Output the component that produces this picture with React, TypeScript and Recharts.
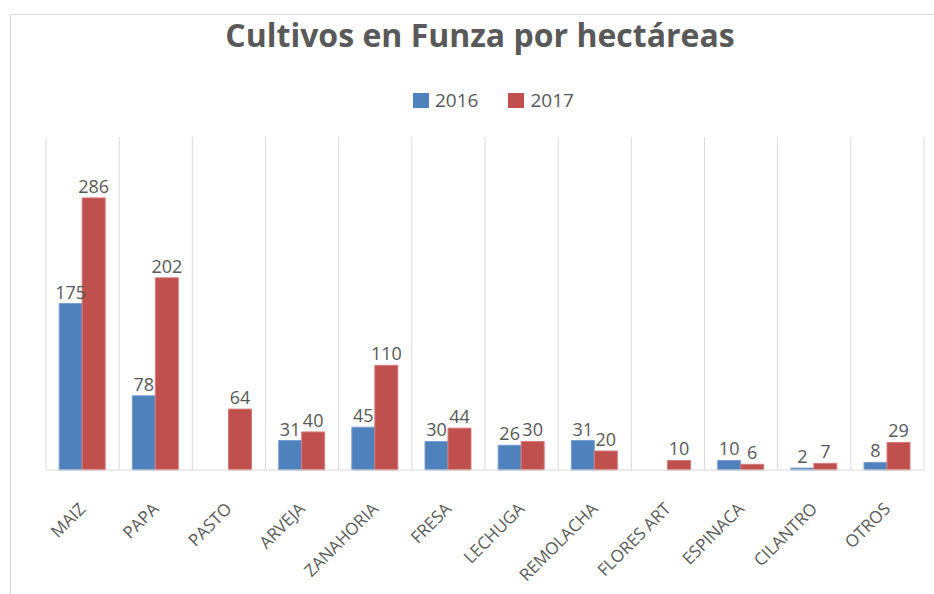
import { BarChart, Bar, XAxis, YAxis, CartesianGrid, Legend, LabelList } from 'recharts';

const cultivos = ['MAIZ', 'PAPA', 'PASTO', 'ARVEJA', 'ZANAHORIA', 'FRESA', 'LECHUGA', 'REMOLACHA', 'FLORES ART', 'ESPINACA', 'CILANTRO', 'OTROS'];
const ha2016 = [175, 78, null, 31, 45, 30, 26, 31, null, 10, 2, 8];
const ha2017 = [286, 202, 64, 40, 110, 44, 30, 20, 10, 6, 7, 29];

const data = cultivos.map((name, i) => ({ name, y2016: ha2016[i], y2017: ha2017[i] }));

const FONT = '"Open Sans", sans-serif';
const GRAY = '#595959';

function Tick({ x, y, payload }: any) {
  return (
    <text
      transform={`translate(${x + 4}, ${y + 32}) rotate(-45)`}
      textAnchor="end"
      fill={GRAY}
      fontSize={17}
      fontFamily={FONT}
    >
      {payload.value}
    </text>
  );
}

function LegendBox({ payload }: any) {
  return (
    <div style={{ display: 'flex', alignItems: 'center', fontFamily: FONT, fontSize: 19, color: GRAY }}>
      {(payload || []).map((p: any) => (
        <div key={p.value} style={{ display: 'flex', alignItems: 'center', marginRight: 30 }}>
          <span style={{ width: 16, height: 15, background: p.color, marginRight: 6, display: 'inline-block' }} />
          <span>{p.value}</span>
        </div>
      ))}
    </div>
  );
}

const fmt = (v: any) => (v == null ? '' : v);

export default function App() {
  return (
    <div style={{ position: 'absolute', left: 0, top: 0, width: 934, height: 594, background: '#fff', overflow: 'hidden' }}>
      <div
        style={{
          position: 'absolute',
          left: 10,
          top: 14,
          width: 940,
          height: 600,
          borderLeft: '1px solid #d9d9d9',
          borderTop: '1px solid #d9d9d9',
        }}
      />
      <div
        style={{
          position: 'absolute',
          left: 0,
          top: 13,
          width: 960,
          textAlign: 'center',
          fontFamily: FONT,
          fontWeight: 700,
          fontSize: 32,
          lineHeight: '44px',
          color: GRAY,
        }}
      >
        Cultivos en Funza por hectáreas
      </div>
      <BarChart
        width={934}
        height={594}
        data={data}
        margin={{ top: 137, right: 10, left: 46, bottom: 94 }}
        barCategoryGap="18%"
        barGap={0}
        style={{ position: 'absolute', left: 0, top: 0 }}
      >
        <CartesianGrid
          horizontal={false}
          stroke="#d9d9d9"
          verticalCoordinatesGenerator={({ offset }: any) =>
            cultivos.map((_, i) => offset.left + (i * offset.width) / cultivos.length).concat(offset.left + offset.width)
          }
        />
        <XAxis
          dataKey="name"
          interval={0}
          height={30}
          axisLine={{ stroke: '#d9d9d9' }}
          tickLine={false}
          tick={<Tick />}
        />
        <YAxis hide domain={[0, 350]} />
        <Legend
          verticalAlign="middle"
          align="center"
          content={<LegendBox />}
          wrapperStyle={{ top: 87, left: 413, width: 230 }}
        />
        <Bar dataKey="y2016" name="2016" fill="#4F81BD" stroke="#7aa0d0" strokeWidth={1} isAnimationActive={false}>
          <LabelList dataKey="y2016" position="top" fill={GRAY} fontSize={18} fontFamily={FONT} formatter={fmt} />
        </Bar>
        <Bar dataKey="y2017" name="2017" fill="#C0504D" stroke="#d47c7a" strokeWidth={1} isAnimationActive={false}>
          <LabelList dataKey="y2017" position="top" fill={GRAY} fontSize={18} fontFamily={FONT} formatter={fmt} />
        </Bar>
      </BarChart>
    </div>
  );
}
